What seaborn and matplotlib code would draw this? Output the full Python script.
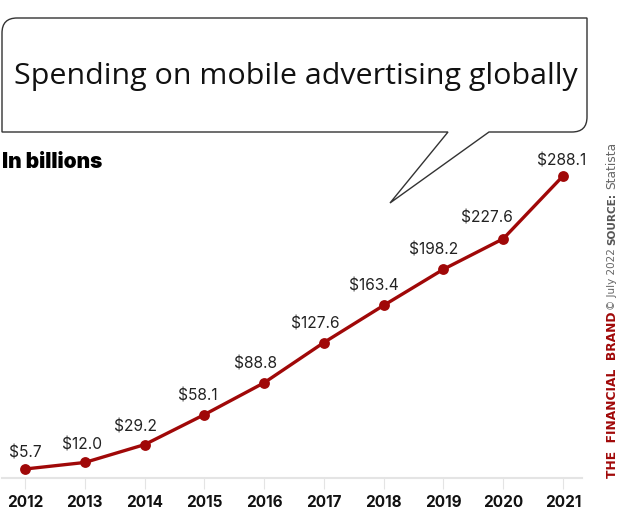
import matplotlib
matplotlib.use("Agg")
import matplotlib.pyplot as plt
from matplotlib.path import Path
from matplotlib.patches import PathPatch
import pandas as pd
import seaborn as sns

years = [2012, 2013, 2014, 2015, 2016, 2017, 2018, 2019, 2020, 2021]
spend = [5.7, 12.0, 29.2, 58.1, 88.8, 127.6, 163.4, 198.2, 227.6, 288.1]
labels = ["$5.7", "$12.0", "$29.2", "$58.1", "$88.8", "$127.6", "$163.4", "$198.2", "$227.6", "$288.1"]
title = "Spending on mobile advertising globally"
subtitle = "In billions"

# label placement relative to each point, in pixels
label_dx = [0, -3, -9, -7, -9, -9, -10, -10, -16, -1]
label_dy = [16, 17, 18, 19, 19, 19, 19, 19, 21, 15]

W, H = 620, 521
sns.set_theme(style="white")
plt.rcParams["font.family"] = ["Inter", "DejaVu Sans"]
fig = plt.figure(figsize=(W / 100, H / 100), dpi=100, facecolor="white")
ax = fig.add_axes([2 / W, 1 - 478 / H, 580 / W, 328 / H])
ax.patch.set_alpha(0)
df = pd.DataFrame({"year": years, "spend": spend})
sns.lineplot(data=df, x="year", y="spend", ax=ax, color="#a00808", linewidth=2.4,
             marker="o", markersize=7.8, markeredgewidth=0, clip_on=False)
ax.set_xlim(2011.615, 2021.318)
ax.set_ylim(-2.97, 313.16)
ax.set_xticks(years)
ax.set_xticklabels(years, fontsize=11, fontweight="bold", color="#111111")
ax.set_yticks([])
ax.set_xlabel("")
ax.set_ylabel("")
ax.tick_params(axis="x", length=8, width=0.8, color="#e4e4e4", pad=4, bottom=True)
for s in ["top", "left", "right"]:
    ax.spines[s].set_visible(False)
ax.spines["bottom"].set_color("#e4e4e4")
ax.spines["bottom"].set_linewidth(1.5)
for x, y, t, dx, dy in zip(years, spend, labels, label_dx, label_dy):
    ax.annotate(t, (x, y), xytext=(dx * 0.72, dy * 0.72), textcoords="offset points", ha="center",
                va="center", fontsize=11.2, color="#222222")

def px(x, y):
    return (x / W, 1 - y / H)

r = 15
R = 587
c = [(2, 132), (2, 18 + r), (2, 18), (2 + r, 18), (R, 18), (R, 132 - r), (R, 132), (R - r, 132),
     (489, 132), (390, 203), (448, 132), (2, 132)]
codes = [Path.MOVETO, Path.LINETO, Path.CURVE3, Path.CURVE3, Path.LINETO, Path.LINETO, Path.CURVE3,
         Path.CURVE3, Path.LINETO, Path.LINETO, Path.LINETO, Path.CLOSEPOLY]
fig.add_artist(PathPatch(Path([px(*p) for p in c], codes), transform=fig.transFigure,
                         facecolor="white", edgecolor="#333333", linewidth=1.0, zorder=1))
fig.text(14 / W, 1 - 84 / H, title, fontsize=21.9, family=["Open Sans", "DejaVu Sans"], color="#111111", va="baseline", zorder=3)
fig.text(2 / W, 1 - 168 / H, subtitle, fontsize=15, fontweight="black", color="#000000", va="baseline", zorder=3)

side = [(478, "THE  FINANCIAL  BRAND", "#a00808", "bold", 8.8),
        (310, "\u00a9 July 2022", "#666666", "normal", 7.5),
        (245, "SOURCE:", "#555555", "bold", 7.6),
        (189, "Statista", "#666666", "normal", 8.8)]
for y, t, col, w, fs in side:
    fig.text(612 / W, 1 - y / H, t, rotation=90, ha="center", va="bottom", color=col,
             fontweight=w, fontsize=fs, family=["DejaVu Sans"])
fig.savefig("out.png", dpi=100)
